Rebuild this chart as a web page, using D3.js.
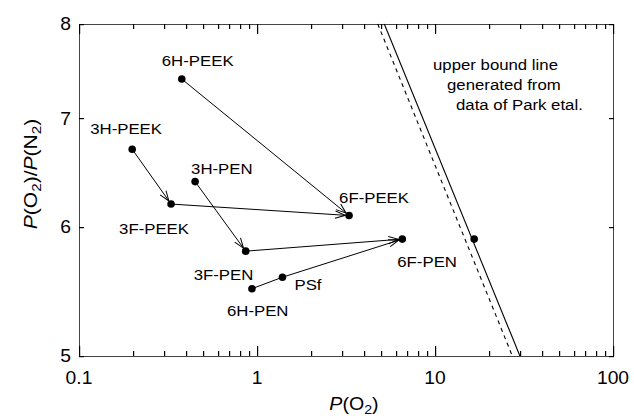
<!DOCTYPE html>
<html>
<head>
<meta charset="utf-8">
<script src="https://cdn.jsdelivr.net/npm/d3@7"></script>
<style>
body { margin: 0; background: #fff; }
text { font-family: "Liberation Sans", Arial, sans-serif; fill: #000; }
</style>
</head>
<body>
<div class="chart"></div>
<script>
// membrane data
var names = ["6H-PEEK", "3H-PEEK", "3H-PEN", "3F-PEEK", "3F-PEN", "6H-PEN", "PSf", "6F-PEEK", "6F-PEN"];
var pO2 = [0.378, 0.199, 0.449, 0.329, 0.864, 0.937, 1.39, 3.29, 6.55];
var selectivity = [7.40, 6.70, 6.40, 6.20, 5.80, 5.50, 5.59, 6.10, 5.90];

// point sitting on the upper bound line
var boundPtX = [16.6];
var boundPtY = [5.9];

// upper bound lines (end points)
var boundSolidX = [5.19, 30.0];
var boundSolidY = [8, 5];
var boundDashX = [4.77, 27.2];
var boundDashY = [8, 5];

// connections [from, to, arrow?]
var links = [
    ["3H-PEEK", "3F-PEEK", true],
    ["6H-PEEK", "6F-PEEK", true],
    ["3H-PEN", "3F-PEN", true],
    ["3F-PEEK", "6F-PEEK", true],
    ["3F-PEN", "6F-PEN", true],
    ["6H-PEN", "PSf", false],
    ["PSf", "6F-PEN", true]
];

var xTickLabels = [0.1, 1, 10, 100];
var xMinorTicks = [0.2, 0.3, 0.4, 0.5, 0.6, 0.7, 0.8, 0.9,
                   2, 3, 4, 5, 6, 7, 8, 9,
                   20, 30, 40, 50, 60, 70, 80, 90];
var yTickLabels = [5, 6, 7, 8];

(function(){

// label placement relative to its point (pixels)
var labelOffset = {
    "6H-PEEK": [-20, -13],
    "3H-PEEK": [-42, -15],
    "3H-PEN": [-4, -8],
    "3F-PEEK": [-52, 30],
    "3F-PEN": [-52, 29],
    "6H-PEN": [-25, 27],
    "PSf": [12, 13],
    "6F-PEEK": [-10, -13],
    "6F-PEN": [-5, 28]
};

var width = 634,
    height = 416;
var plotL = 79, plotR = 613, plotT = 24, plotB = 356;
var SX = 1.09; // glyphs in the figure are slightly wide

var svg = d3.select(".chart")
    .append("svg")
    .attr("width", width)
    .attr("height", height);

var x = d3.scaleLog().domain([0.1, 100]).range([plotL, plotR]);
var y = d3.scaleLog().domain([5, 8]).range([plotB, plotT]);

function wideText(sel, px, py, size, anchor) {
    return sel.append("text")
        .attr("transform", "translate(" + px + "," + py + ") scale(" + SX + ",1)")
        .attr("text-anchor", anchor)
        .style("font-size", size + "px");
}

// arrow head
svg.append("defs").append("marker")
    .attr("id", "arr")
    .attr("markerUnits", "userSpaceOnUse")
    .attr("viewBox", "-12 -6 14 12")
    .attr("refX", 0)
    .attr("refY", 0)
    .attr("markerWidth", 14)
    .attr("markerHeight", 12)
    .attr("orient", "auto")
    .append("path")
    .attr("d", "M-10,-3.6 L0,0 L-10,3.6")
    .attr("fill", "none")
    .attr("stroke", "#000")
    .attr("stroke-width", 1);

// frame
svg.append("path")
    .attr("d", "M" + (plotL + 0.5) + "," + (plotT + 0.5) +
               "H" + (plotR + 0.5) + "V" + (plotB + 0.5) +
               "H" + (plotL + 0.5) + "Z")
    .attr("fill", "none")
    .attr("stroke", "#444")
    .attr("stroke-width", 1);

// ticks as thin filled rects, pointing inward
var xTickData = xTickLabels.map(function(v){ return { v: v, len: 10 }; })
    .concat(xMinorTicks.map(function(v){ return { v: v, len: 5 }; }));

var tg = svg.append("g").attr("class", "tickmarks");

tg.selectAll(".xtb")
    .data(xTickData)
    .enter()
    .append("rect")
    .attr("class", "xtb")
    .attr("x", function(d){ return Math.round(x(d.v)); })
    .attr("y", function(d){ return plotB - d.len; })
    .attr("width", 1.2)
    .attr("height", function(d){ return d.len; })
    .attr("fill", "#000");

tg.selectAll(".xtt")
    .data(xTickData)
    .enter()
    .append("rect")
    .attr("class", "xtt")
    .attr("x", function(d){ return Math.round(x(d.v)); })
    .attr("y", plotT)
    .attr("width", 1.2)
    .attr("height", function(d){ return d.len; })
    .attr("fill", "#000");

tg.selectAll(".ytl")
    .data(yTickLabels)
    .enter()
    .append("rect")
    .attr("class", "ytl")
    .attr("x", plotL)
    .attr("y", function(d){ return Math.round(y(d)); })
    .attr("width", 5)
    .attr("height", 1.2)
    .attr("fill", "#000");

tg.selectAll(".ytr")
    .data(yTickLabels)
    .enter()
    .append("rect")
    .attr("class", "ytr")
    .attr("x", plotR - 4)
    .attr("y", function(d){ return Math.round(y(d)); })
    .attr("width", 5)
    .attr("height", 1.2)
    .attr("fill", "#000");

// tick labels
xTickLabels.forEach(function(v){
    wideText(svg, x(v), 383.5, 17.7, "middle").text(v === 0.1 ? "0.1" : String(v));
});
yTickLabels.forEach(function(v){
    wideText(svg, 71, y(v) + 6.2, 17.7, "end").text(String(v));
});

// axis titles
var xt = wideText(svg, 354, 410, 18, "middle");
xt.append("tspan").style("font-style", "italic").text("P");
xt.append("tspan").text("(O");
xt.append("tspan").attr("dy", 4).style("font-size", "13px").text("2");
xt.append("tspan").attr("dy", -4).text(")");

var yt = svg.append("text")
    .attr("transform", "translate(37,174) rotate(-90) scale(1.17,1)")
    .attr("text-anchor", "middle")
    .style("font-size", "18px");
yt.append("tspan").style("font-style", "italic").text("P");
yt.append("tspan").text("(O");
yt.append("tspan").attr("dy", 4).style("font-size", "13px").text("2");
yt.append("tspan").attr("dy", -4).text(")/");
yt.append("tspan").style("font-style", "italic").text("P");
yt.append("tspan").text("(N");
yt.append("tspan").attr("dy", 4).style("font-size", "13px").text("2");
yt.append("tspan").attr("dy", -4).text(")");

// upper bound lines
var line = d3.line()
    .x(function(d){ return x(d[0]); })
    .y(function(d){ return y(d[1]); });

svg.append("path")
    .datum(d3.zip(boundSolidX, boundSolidY))
    .attr("d", line)
    .attr("fill", "none")
    .attr("stroke", "#000")
    .attr("stroke-width", 1.1);
svg.append("path")
    .datum(d3.zip(boundDashX, boundDashY))
    .attr("d", line)
    .attr("fill", "none")
    .attr("stroke", "#000")
    .attr("stroke-width", 1.1)
    .attr("stroke-dasharray", "4,4");

// links between membranes
var R = 3.8;
var idx = {};
names.forEach(function(n, i){ idx[n] = i; });

links.forEach(function(l){
    var a = idx[l[0]], b = idx[l[1]];
    var x1 = x(pO2[a]), y1 = y(selectivity[a]),
        x2 = x(pO2[b]), y2 = y(selectivity[b]);
    var len = Math.sqrt((x2 - x1) * (x2 - x1) + (y2 - y1) * (y2 - y1));
    var cut = l[2] ? R : 0;
    svg.append("line")
        .attr("x1", x1).attr("y1", y1)
        .attr("x2", x2 - (x2 - x1) / len * cut)
        .attr("y2", y2 - (y2 - y1) / len * cut)
        .attr("stroke", "#000")
        .attr("stroke-width", 1)
        .attr("marker-end", l[2] ? "url(#arr)" : null);
});

// points
svg.selectAll(".pt")
    .data(names)
    .enter()
    .append("circle")
    .attr("class", "pt")
    .attr("cx", function(d, i){ return x(pO2[i]); })
    .attr("cy", function(d, i){ return y(selectivity[i]); })
    .attr("r", R)
    .attr("fill", "#000");

svg.selectAll(".bpt")
    .data(boundPtX)
    .enter()
    .append("circle")
    .attr("class", "bpt")
    .attr("cx", function(d){ return x(d); })
    .attr("cy", function(d, i){ return y(boundPtY[i]); })
    .attr("r", R)
    .attr("fill", "#000");

// point labels
names.forEach(function(n, i){
    var off = labelOffset[n];
    wideText(svg, x(pO2[i]) + off[0], y(selectivity[i]) + off[1], 15.4, "start").text(n);
});

// annotation
wideText(svg, 433, 70, 15.4, "start").text("upper bound line");
wideText(svg, 447, 90, 15.4, "start").text("generated from");
wideText(svg, 456, 110, 15.4, "start").text("data of Park etal.");

})();
</script>
</body>
</html>
